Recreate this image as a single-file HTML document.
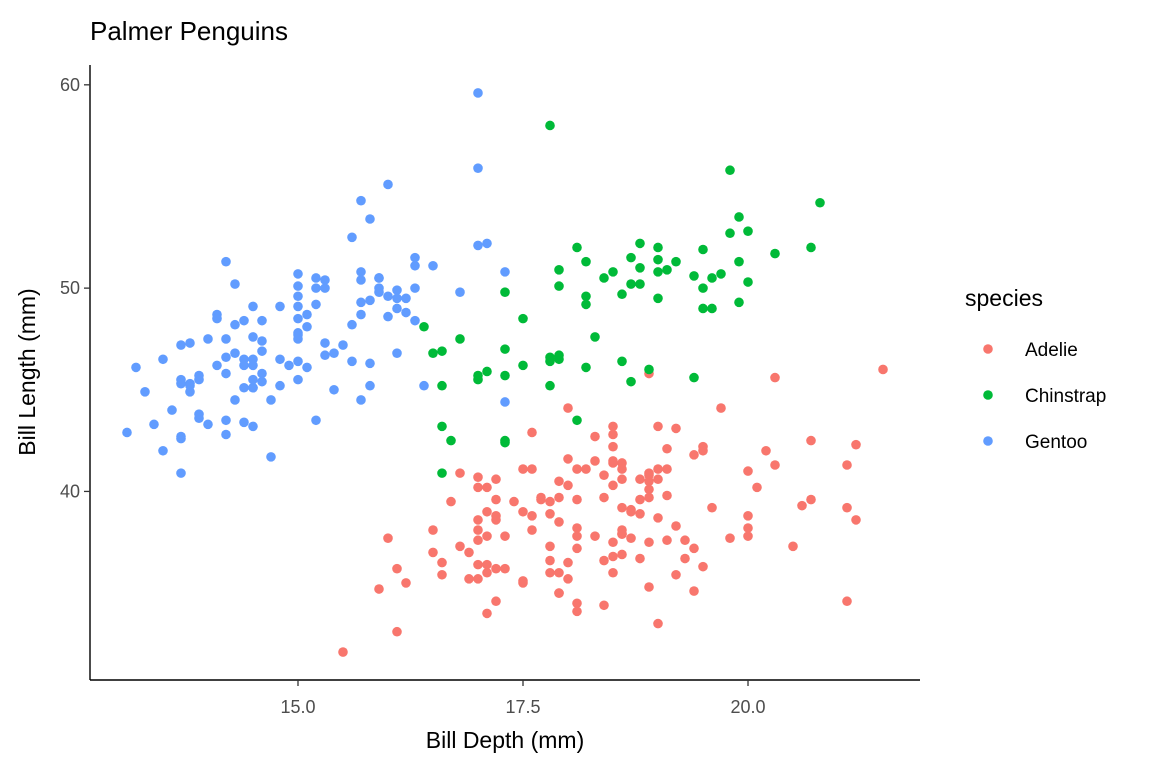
<!DOCTYPE html>
<html><head><meta charset="utf-8"><style>
body{margin:0;background:#fff;}
text{font-family:"Liberation Sans",Arial,sans-serif;}
</style></head><body>
<svg id="chart" width="1152" height="768" xmlns="http://www.w3.org/2000/svg">
<rect width="1152" height="768" fill="#fff"/>
<text x="90" y="40" font-size="26" fill="#000">Palmer Penguins</text>
<g id="plot"></g>
<g id="axes"></g>
<text x="505" y="748" font-size="23" text-anchor="middle" fill="#000">Bill Depth (mm)</text>
<text transform="translate(35,372) rotate(-90)" font-size="23" text-anchor="middle" fill="#000">Bill Length (mm)</text>
<g id="legend">
<text x="965" y="306" font-size="23" fill="#000">species</text>
</g>
</svg>
<script>
const species=["Adelie","Chinstrap","Gentoo"];
const colors=["#F8766D","#00BA38","#619CFF"];
const xTicks=[15.0,17.5,20.0];
const xTickLabels=["15.0","17.5","20.0"];
const yTicks=[40,50,60];
const yTickLabels=["40","50","60"];
// [bill length, bill depth]
const adelie=[[39.1,18.7],[39.5,17.4],[40.3,18.0],[36.7,19.3],[39.3,20.6],[38.9,17.8],[39.2,19.6],[34.1,18.1],[42.0,20.2],[37.8,17.1],[37.8,17.3],[41.1,17.6],[38.6,21.2],[34.6,21.1],[36.6,17.8],[38.7,19.0],[42.5,20.7],[34.4,18.4],[46.0,21.5],[37.8,18.3],[37.7,18.7],[35.9,19.2],[38.2,18.1],[38.8,17.2],[35.3,18.9],[40.6,18.6],[40.5,17.9],[37.9,18.6],[40.5,18.9],[39.5,16.7],[37.2,18.1],[39.5,17.8],[40.9,18.9],[36.4,17.0],[39.2,21.1],[38.8,20.0],[42.2,18.5],[37.6,19.3],[39.8,19.1],[36.5,18.0],[40.8,18.4],[36.0,18.5],[44.1,19.7],[37.0,16.9],[39.6,18.8],[41.1,19.0],[37.5,18.9],[36.0,17.9],[42.3,21.2],[39.6,17.7],[40.1,18.9],[35.0,17.9],[42.0,19.5],[34.5,18.1],[41.4,18.6],[39.0,17.5],[40.6,18.8],[36.5,16.6],[37.6,19.1],[35.7,16.9],[41.3,21.1],[37.6,17.0],[41.1,18.2],[36.4,17.1],[41.6,18.0],[35.5,16.2],[41.1,19.1],[35.9,16.6],[41.8,19.4],[33.5,19.0],[39.7,18.4],[39.6,17.2],[45.8,18.9],[35.5,17.5],[42.8,18.5],[40.9,16.8],[37.2,19.4],[36.2,16.1],[42.1,19.1],[34.6,17.2],[42.9,17.6],[36.7,18.8],[35.1,19.4],[37.3,17.8],[41.3,20.3],[36.3,19.5],[36.9,18.6],[38.3,19.2],[38.9,18.8],[35.7,18.0],[41.1,18.1],[34.0,17.1],[39.6,18.1],[36.2,17.3],[40.8,18.9],[38.1,18.6],[40.3,18.5],[33.1,16.1],[43.2,18.5],[35.0,17.9],[41.0,20.0],[37.7,16.0],[37.8,20.0],[37.9,18.6],[39.7,18.9],[38.6,17.2],[38.2,20.0],[38.1,17.0],[43.2,19.0],[38.1,16.5],[45.6,20.3],[39.7,17.7],[42.2,19.5],[39.6,20.7],[42.7,18.3],[38.6,17.0],[37.3,20.5],[35.7,17.0],[41.1,18.6],[36.2,17.2],[37.7,19.8],[40.2,17.0],[41.4,18.5],[35.2,15.9],[40.6,19.0],[38.8,17.6],[41.5,18.3],[39.0,17.1],[44.1,18.0],[38.5,17.9],[43.1,19.2],[36.8,18.5],[37.5,18.5],[38.1,17.6],[41.1,17.5],[35.6,17.5],[40.2,20.1],[37.0,16.5],[39.7,17.9],[40.2,17.1],[40.6,17.2],[32.1,15.5],[40.7,17.0],[37.3,16.8],[39.0,18.7],[39.2,18.6],[36.6,18.4],[36.0,17.8],[37.8,18.1],[36.0,17.1],[41.5,18.5]];
const chinstrap=[[46.5,17.9],[50.0,19.5],[51.3,19.2],[45.4,18.7],[52.7,19.8],[45.2,17.8],[46.1,18.2],[51.3,18.2],[46.0,18.9],[51.3,19.9],[46.6,17.8],[51.7,20.3],[47.0,17.3],[52.0,18.1],[45.9,17.1],[50.5,19.6],[50.3,20.0],[58.0,17.8],[46.4,18.6],[49.2,18.2],[42.4,17.3],[48.5,17.5],[43.2,16.6],[50.6,19.4],[46.7,17.9],[52.0,19.0],[50.5,18.4],[49.5,19.0],[46.4,17.8],[52.8,20.0],[40.9,16.6],[54.2,20.8],[42.5,16.7],[51.0,18.8],[49.7,18.6],[47.5,16.8],[47.6,18.3],[52.0,20.7],[46.9,16.6],[53.5,19.9],[49.0,19.5],[46.2,17.5],[50.9,19.1],[45.5,17.0],[50.9,17.9],[50.8,18.5],[50.1,17.9],[49.0,19.6],[51.5,18.7],[49.8,17.3],[48.1,16.4],[51.4,19.0],[45.7,17.3],[50.7,19.7],[42.5,17.3],[52.2,18.8],[45.2,16.6],[49.3,19.9],[50.2,18.8],[45.6,19.4],[51.9,19.5],[46.8,16.5],[45.7,17.0],[55.8,19.8],[43.5,18.1],[49.6,18.2],[50.8,19.0],[50.2,18.7]];
const gentoo=[[46.1,13.2],[50.0,16.3],[48.7,14.1],[50.0,15.2],[47.6,14.5],[46.5,13.5],[45.4,14.6],[46.7,15.3],[43.3,13.4],[46.8,15.4],[40.9,13.7],[49.0,16.1],[45.5,13.7],[48.4,14.6],[45.8,14.6],[49.3,15.7],[42.0,13.5],[49.2,15.2],[46.2,14.5],[48.7,15.1],[50.2,14.3],[45.1,14.5],[46.5,14.5],[46.3,15.8],[42.9,13.1],[46.1,15.1],[44.5,14.3],[47.8,15.0],[48.2,14.3],[50.0,15.3],[47.3,15.3],[42.8,14.2],[45.1,14.5],[59.6,17.0],[49.1,14.8],[48.4,16.3],[42.6,13.7],[44.4,17.3],[44.0,13.6],[48.7,15.7],[42.7,13.7],[49.6,16.0],[45.3,13.7],[49.6,15.0],[50.5,15.9],[43.6,13.9],[45.5,13.9],[50.5,15.9],[44.9,13.3],[45.2,15.8],[46.6,14.2],[48.5,14.1],[45.1,14.4],[50.1,15.0],[46.5,14.4],[45.0,15.4],[43.8,13.9],[45.5,15.0],[43.2,14.5],[50.4,15.3],[45.3,13.8],[46.2,14.9],[45.7,13.9],[54.3,15.7],[45.8,14.2],[49.8,16.8],[46.2,14.4],[49.5,16.2],[43.5,14.2],[50.7,15.0],[47.7,15.0],[46.4,15.6],[48.2,15.6],[46.5,14.8],[46.4,15.0],[48.6,16.0],[47.5,14.2],[51.1,16.3],[45.2,13.8],[45.2,16.4],[49.1,14.5],[52.5,15.6],[47.4,14.6],[50.0,15.9],[44.9,13.8],[50.8,17.3],[43.4,14.4],[51.3,14.2],[47.5,14.0],[52.1,17.0],[47.5,15.0],[52.2,17.1],[45.5,14.5],[49.5,16.1],[44.5,14.7],[50.8,15.7],[49.4,15.8],[46.9,14.6],[48.4,14.4],[51.1,16.5],[48.5,15.0],[55.9,17.0],[47.2,15.5],[49.1,15.0],[47.3,13.8],[46.8,16.1],[41.7,14.7],[53.4,15.8],[43.3,14.0],[48.1,15.1],[50.5,15.2],[49.8,15.9],[43.5,15.2],[51.5,16.3],[46.2,14.1],[55.1,16.0],[44.5,15.7],[48.8,16.2],[47.2,13.7],[46.8,14.3],[50.4,15.7],[45.2,14.8],[49.9,16.1]];
const NS="http://www.w3.org/2000/svg";
const L=90,R=920,T=65,B=680;
const xMin=12.689,xMax=21.911,yMin=30.725,yMax=60.975;
function xs(v){return L+(v-xMin)/(xMax-xMin)*(R-L);}
function ys(v){return B-(v-yMin)/(yMax-yMin)*(B-T);}
function mk(tag,attrs,parent){const e=document.createElementNS(NS,tag);for(const k in attrs)e.setAttribute(k,attrs[k]);parent.appendChild(e);return e;}
const plot=document.getElementById('plot');
[adelie,chinstrap,gentoo].forEach((arr,si)=>{
  arr.forEach(p=>{
    const c=mk('circle',{cx:xs(p[1]),cy:ys(p[0]),r:4.8,fill:colors[si]},plot);
    
    
  });
});
const axes=document.getElementById('axes');
const xl=mk('line',{x1:L,x2:R,y1:B,y2:B,stroke:'#000','stroke-width':1.4},axes);


const yl=mk('line',{x1:L,x2:L,y1:T,y2:B,stroke:'#000','stroke-width':1.4},axes);


xTicks.forEach((v,i)=>{
  const x=xs(v);
  mk('line',{x1:x,x2:x,y1:B,y2:B+6,stroke:'#333','stroke-width':1.3},axes);
  const t=mk('text',{x:x,y:B+33,'font-size':18,'text-anchor':'middle',fill:'#4d4d4d'},axes);
  t.textContent=xTickLabels[i];
  
  
});
yTicks.forEach((v,i)=>{
  const y=ys(v);
  mk('line',{x1:L-6,x2:L,y1:y,y2:y,stroke:'#333','stroke-width':1.3},axes);
  const t=mk('text',{x:L-10,y:y+6,'font-size':18,'text-anchor':'end',fill:'#4d4d4d'},axes);
  t.textContent=yTickLabels[i];
  
  
});
const leg=document.getElementById('legend');
species.forEach((s,i)=>{
  const y=349+i*46;
  const c=mk('circle',{cx:988,cy:y,r:4.8,fill:colors[i]},leg);
  
  
  const t=mk('text',{x:1025,y:y+7,'font-size':19,fill:'#000'},leg);
  t.textContent=s;
  
  
});
</script>
</body></html>
